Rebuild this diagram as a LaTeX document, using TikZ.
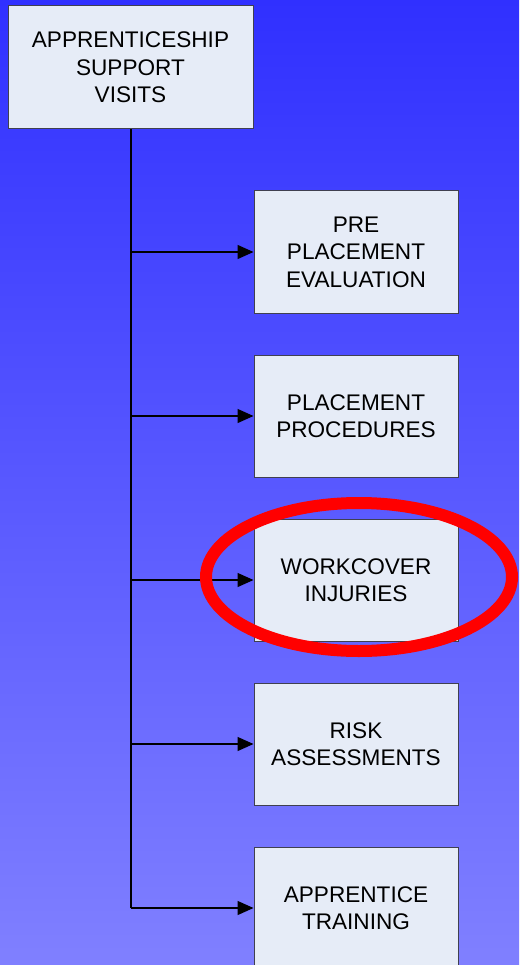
\documentclass[tikz,border=0pt]{standalone}
\usepackage{fontspec}
\setmainfont{Liberation Sans}
\usetikzlibrary{arrows.meta}
\definecolor{bgtop}{RGB}{48,48,255}
\definecolor{bgbot}{RGB}{128,128,255}
\definecolor{boxfill}{RGB}{230,236,247}
\definecolor{boxline}{RGB}{64,64,80}
\definecolor{ringred}{RGB}{255,0,0}
\begin{document}
\begin{tikzpicture}[x=1pt,y=-1pt,
  boxstyle/.style={draw=boxline, line width=1pt, fill=boxfill, inner sep=0pt,
    align=center, font=\fontsize{22.6}{27.5}\selectfont, text=black},
  topbox/.style={boxstyle, minimum width=245pt, minimum height=123pt},
  subbox/.style={boxstyle, minimum width=204pt, minimum height=122pt},
  conn/.style={line width=1.3pt, black},
  arr/.style={conn, -{Triangle[length=16pt,width=14pt]}}]
\useasboundingbox (0,0) rectangle (519,965);
\shade[top color=bgtop, bottom color=bgbot] (0,0) rectangle (519,965);
\node[topbox] (root) at (130.5,67.5) {APPRENTICESHIP\\SUPPORT\\VISITS};
\node[subbox] (b1) at (356,252) {PRE\\PLACEMENT\\EVALUATION};
\node[subbox] (b2) at (356,416) {PLACEMENT\\PROCEDURES};
\node[subbox] (b3) at (356,580) {WORKCOVER\\INJURIES};
\node[subbox] (b4) at (356,744) {RISK\\ASSESSMENTS};
\node[subbox] (b5) at (356,908) {APPRENTICE\\TRAINING};
\coordinate (j1) at (131,252);
\coordinate (j2) at (131,416);
\coordinate (j3) at (131,580);
\coordinate (j4) at (131,744);
\coordinate (j5) at (131,908);
\draw[conn] (root.south -| j1) -- (j5);
\draw[arr] (j1) -- (b1.west);
\draw[arr] (j2) -- (b2.west);
\draw[arr] (j3) -- (b3.west);
\draw[arr] (j4) -- (b4.west);
\draw[arr] (j5) -- (b5.west);
\draw[ringred, line width=12pt] (359,577) ellipse [x radius=153, y radius=74];
\end{tikzpicture}
\end{document}
